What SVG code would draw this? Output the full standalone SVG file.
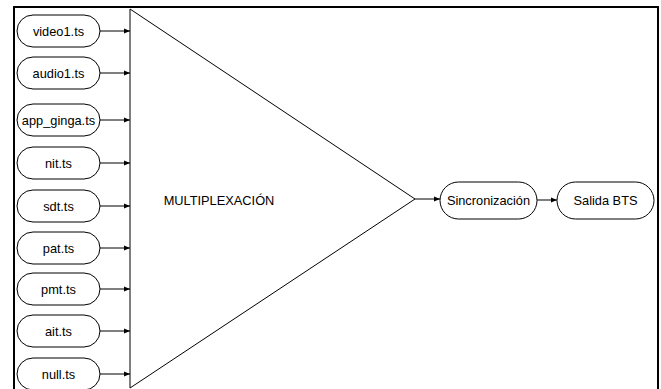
<svg xmlns="http://www.w3.org/2000/svg" width="661" height="389" viewBox="0 0 661 389">
<style>
.pill{fill:#fff;stroke:#000;stroke-width:1}
.t{font-family:"Liberation Sans",Arial,sans-serif;font-size:12.8px;fill:#000;text-anchor:middle;dominant-baseline:central}
.c{stroke:#000;stroke-width:1;fill:none}
</style>
<defs>
<marker id="a" viewBox="0 0 10 10" refX="10" refY="5" markerWidth="6" markerHeight="6" markerUnits="userSpaceOnUse" orient="auto">
<path d="M0,1 L10,5 L0,9 z" fill="#000"/>
</marker>
</defs>
<rect x="0" y="0" width="661" height="389" fill="#fff"/>
<path d="M14,389 V7 H658 V389" fill="none" stroke="#000" stroke-width="2"/>
<g id="mux">
<polygon points="130,9 130,388 415,199" fill="#fff" stroke="#000" stroke-width="1"/>
<text class="t" x="219" y="200">MULTIPLEXACIÓN</text>
</g>
<g id="video1"><rect class="pill" x="17" y="15" width="83" height="32" rx="16"/><text class="t" x="58.5" y="31">video1.ts</text></g>
<g id="audio1"><rect class="pill" x="17" y="57" width="83" height="32" rx="16"/><text class="t" x="58.5" y="73">audio1.ts</text></g>
<g id="app_ginga"><rect class="pill" x="17" y="104" width="83" height="32" rx="16"/><text class="t" x="58.5" y="120">app_ginga.ts</text></g>
<g id="nit"><rect class="pill" x="17" y="147" width="83" height="32" rx="16"/><text class="t" x="58.5" y="163">nit.ts</text></g>
<g id="sdt"><rect class="pill" x="17" y="190" width="83" height="32" rx="16"/><text class="t" x="58.5" y="206">sdt.ts</text></g>
<g id="pat"><rect class="pill" x="17" y="232" width="83" height="32" rx="16"/><text class="t" x="58.5" y="248">pat.ts</text></g>
<g id="pmt"><rect class="pill" x="17" y="273" width="83" height="32" rx="16"/><text class="t" x="58.5" y="289">pmt.ts</text></g>
<g id="ait"><rect class="pill" x="17" y="315" width="83" height="32" rx="16"/><text class="t" x="58.5" y="331">ait.ts</text></g>
<g id="null"><rect class="pill" x="17" y="358" width="83" height="32" rx="16"/><text class="t" x="58.5" y="374">null.ts</text></g>
<g id="sync"><rect class="pill" x="440" y="182" width="97" height="37" rx="18.5"/><text class="t" x="488.5" y="200.5">Sincronización</text></g>
<g id="salida"><rect class="pill" x="557" y="182" width="97" height="37" rx="18.5"/><text class="t" x="605.5" y="200.5">Salida BTS</text></g>
<g id="connectors">
<line class="c" x1="100" y1="31" x2="130" y2="31" marker-end="url(#a)"/>
<line class="c" x1="100" y1="73" x2="130" y2="73" marker-end="url(#a)"/>
<line class="c" x1="100" y1="120" x2="130" y2="120" marker-end="url(#a)"/>
<line class="c" x1="100" y1="163" x2="130" y2="163" marker-end="url(#a)"/>
<line class="c" x1="100" y1="206" x2="130" y2="206" marker-end="url(#a)"/>
<line class="c" x1="100" y1="248" x2="130" y2="248" marker-end="url(#a)"/>
<line class="c" x1="100" y1="289" x2="130" y2="289" marker-end="url(#a)"/>
<line class="c" x1="100" y1="331" x2="130" y2="331" marker-end="url(#a)"/>
<line class="c" x1="100" y1="374" x2="130" y2="374" marker-end="url(#a)"/>
<line class="c" x1="415" y1="199" x2="440" y2="199" marker-end="url(#a)"/>
<line class="c" x1="537" y1="200" x2="557" y2="200" marker-end="url(#a)"/>
</g>
</svg>
